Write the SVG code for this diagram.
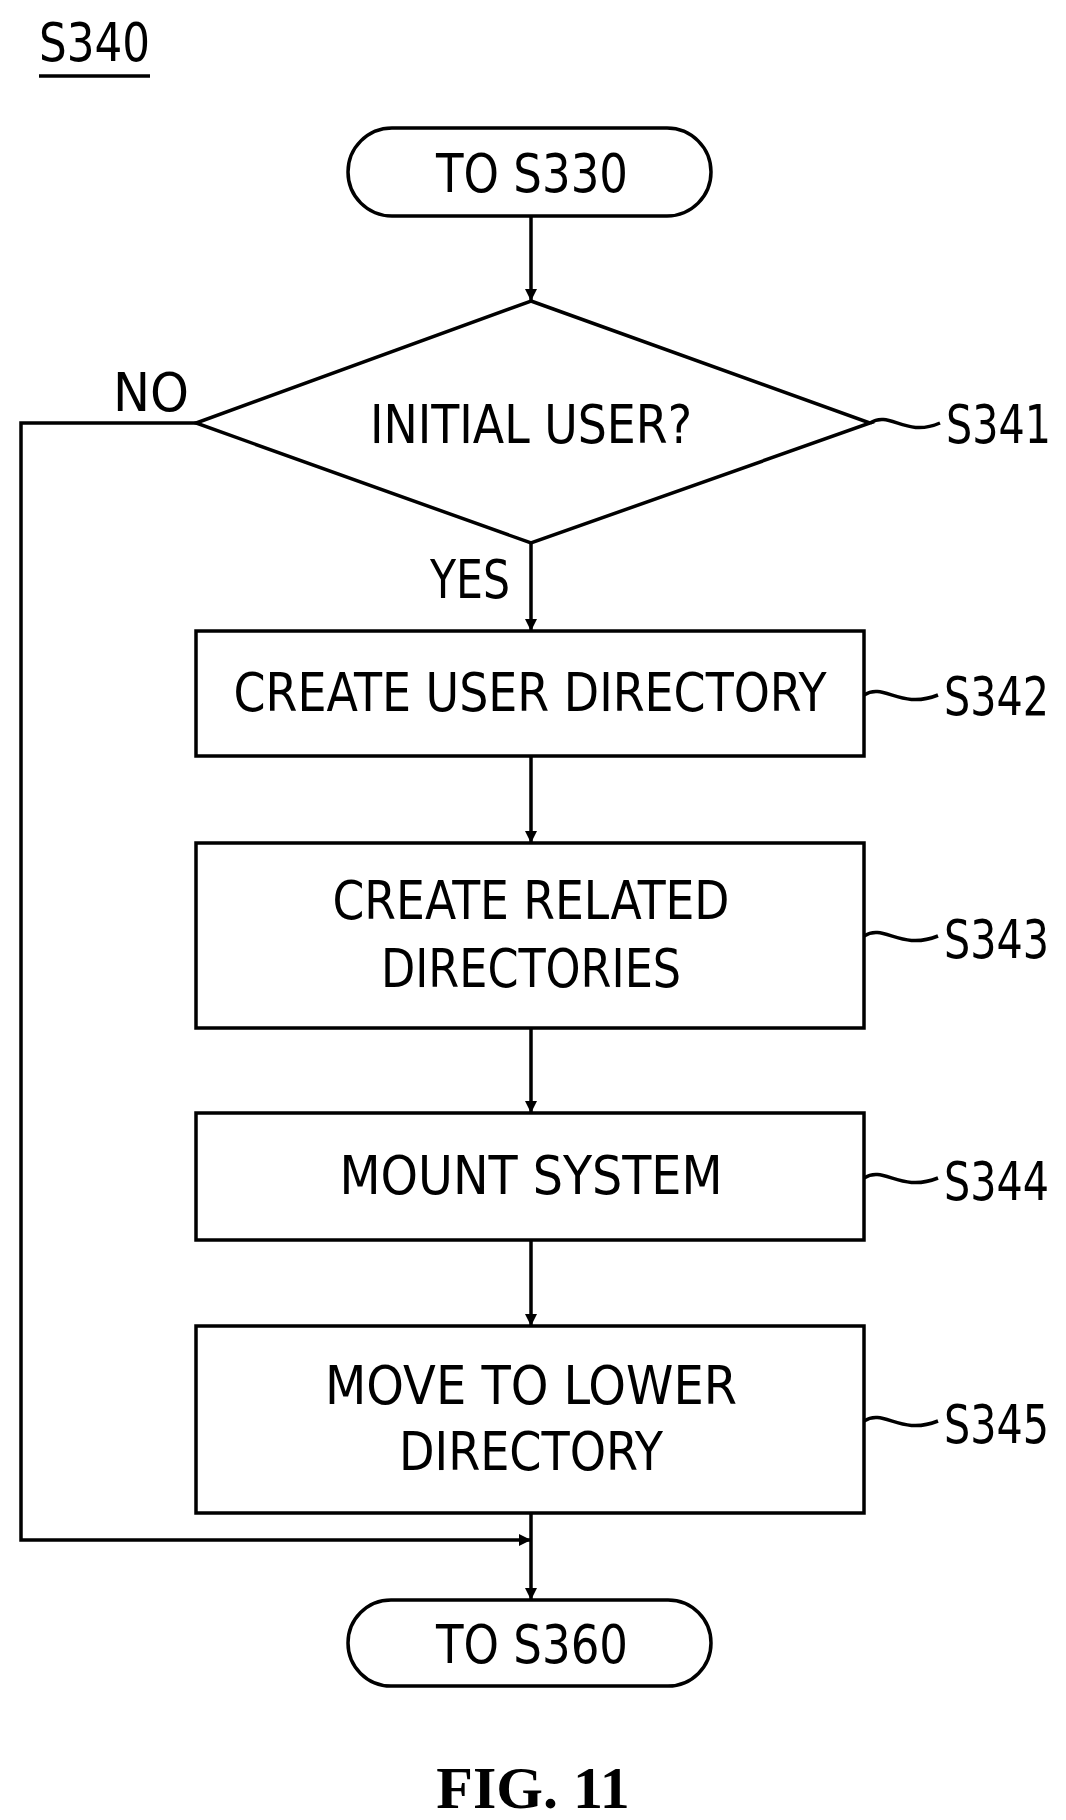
<svg xmlns="http://www.w3.org/2000/svg" width="1066" height="1820" viewBox="0 0 1066 1820">
<style>
.s{fill:none;stroke:#000;stroke-width:3.5}
.t{font-family:"DejaVu Sans Condensed","Liberation Sans",sans-serif;font-size:54px;fill:#000;text-anchor:middle}
.l{font-family:"DejaVu Sans Condensed","Liberation Sans",sans-serif;font-size:54px;fill:#000}
.f{font-family:"Liberation Serif",serif;font-weight:bold;font-size:60px;text-anchor:middle}
</style>
<defs><marker id="a" markerWidth="12" markerHeight="24" refX="12" refY="6" orient="auto" markerUnits="userSpaceOnUse" viewBox="0 0 12 12"><path d="M0,0 L12,6 L0,12 Z" fill="#000"/></marker></defs>
<rect width="1066" height="1820" fill="#fff"/>
<g id="title"><text class="l" x="39" y="61" textLength="111" lengthAdjust="spacingAndGlyphs">S340</text><line x1="39" y1="76" x2="150" y2="76" stroke="#000" stroke-width="3.5"/></g>
<g id="start"><rect class="s" x="348" y="128" width="363" height="88" rx="44"/><text class="t" x="532" y="192" textLength="192" lengthAdjust="spacingAndGlyphs">TO S330</text></g>
<g id="S341"><polygon class="s" points="531,301 870,423 531,543 196,423"/><text class="t" x="531" y="443" textLength="322" lengthAdjust="spacingAndGlyphs">INITIAL USER?</text><path class="s" d="M870,423 C890,410 905,438 940,423" stroke-width="2"/><text class="l" x="946" y="443" textLength="105" lengthAdjust="spacingAndGlyphs">S341</text></g>
<g id="S342"><rect class="s" x="196" y="631" width="668" height="125"/><text class="t" x="530" y="711" textLength="593" lengthAdjust="spacingAndGlyphs">CREATE USER DIRECTORY</text><path class="s" d="M864,695 C884,682 900,710 938,695" stroke-width="2"/><text class="l" x="944" y="715" textLength="105" lengthAdjust="spacingAndGlyphs">S342</text></g>
<g id="S343"><rect class="s" x="196" y="843" width="668" height="185"/><text class="t" x="531" y="919" textLength="397" lengthAdjust="spacingAndGlyphs">CREATE RELATED</text><text class="t" x="531" y="987" textLength="300" lengthAdjust="spacingAndGlyphs">DIRECTORIES</text><path class="s" d="M864,936 C884,923 900,951 938,936" stroke-width="2"/><text class="l" x="944" y="958" textLength="105" lengthAdjust="spacingAndGlyphs">S343</text></g>
<g id="S344"><rect class="s" x="196" y="1113" width="668" height="127"/><text class="t" x="531" y="1194" textLength="383" lengthAdjust="spacingAndGlyphs">MOUNT SYSTEM</text><path class="s" d="M864,1178 C884,1165 900,1193 938,1178" stroke-width="2"/><text class="l" x="944" y="1200" textLength="105" lengthAdjust="spacingAndGlyphs">S344</text></g>
<g id="S345"><rect class="s" x="196" y="1326" width="668" height="187"/><text class="t" x="531" y="1404" textLength="412" lengthAdjust="spacingAndGlyphs">MOVE TO LOWER</text><text class="t" x="531" y="1470" textLength="264" lengthAdjust="spacingAndGlyphs">DIRECTORY</text><path class="s" d="M864,1421 C884,1408 900,1436 938,1421" stroke-width="2"/><text class="l" x="944" y="1443" textLength="105" lengthAdjust="spacingAndGlyphs">S345</text></g>
<g id="end"><rect class="s" x="348" y="1600" width="363" height="86" rx="43"/><text class="t" x="532" y="1663" textLength="192" lengthAdjust="spacingAndGlyphs">TO S360</text></g>
<g id="connectors">
<line class="s" x1="531" y1="216" x2="531" y2="301" marker-end="url(#a)"/>
<line class="s" x1="531" y1="543" x2="531" y2="631" marker-end="url(#a)"/>
<line class="s" x1="531" y1="756" x2="531" y2="843" marker-end="url(#a)"/>
<line class="s" x1="531" y1="1028" x2="531" y2="1113" marker-end="url(#a)"/>
<line class="s" x1="531" y1="1240" x2="531" y2="1326" marker-end="url(#a)"/>
<line class="s" x1="531" y1="1513" x2="531" y2="1600" marker-end="url(#a)"/>
<polyline class="s" points="196,423 21,423 21,1540 531,1540" marker-end="url(#a)"/>
<text class="l" x="113" y="411" textLength="76" lengthAdjust="spacingAndGlyphs">NO</text>
<text class="l" x="430" y="598" textLength="80" lengthAdjust="spacingAndGlyphs">YES</text>
</g>
<text class="f" x="533" y="1808">FIG. 11</text>
</svg>
